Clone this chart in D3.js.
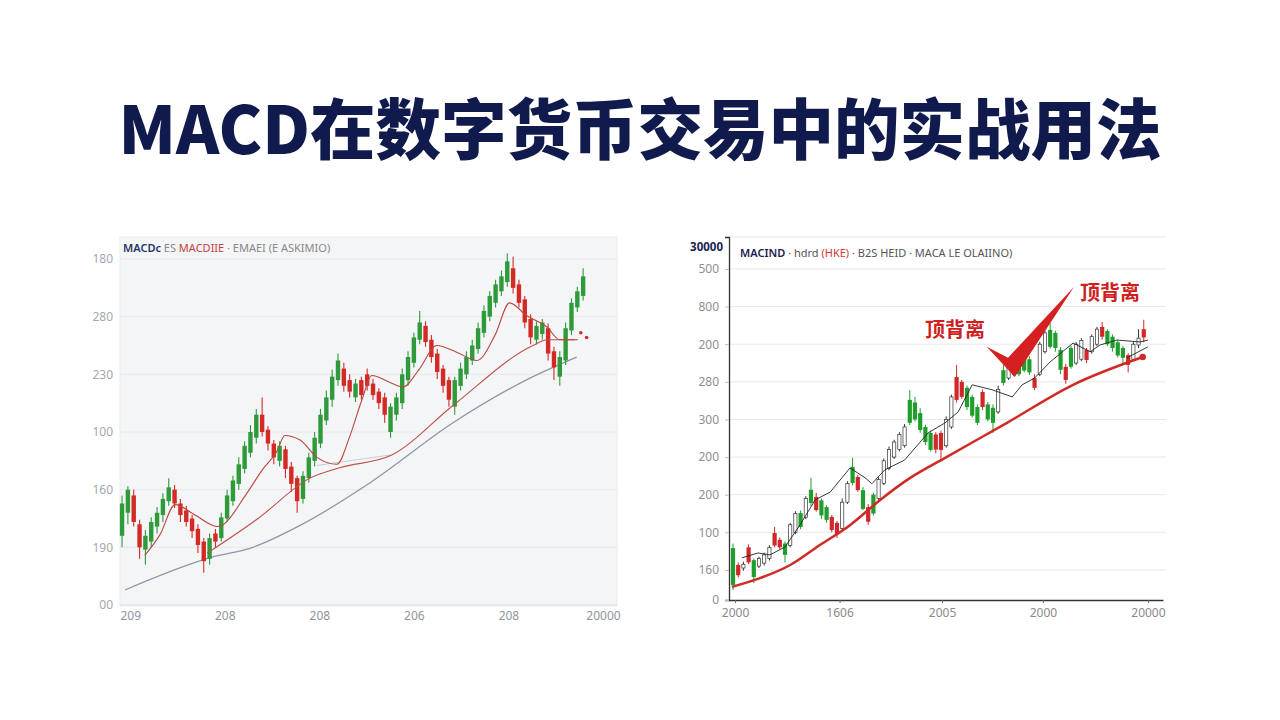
<!DOCTYPE html>
<html><head><meta charset="utf-8">
<script src="https://cdn.jsdelivr.net/npm/d3@7"></script>
<style>body{margin:0;background:#fff;}svg{display:block}</style>
</head><body>
<svg id="c" width="1280" height="720"></svg>
<script>
// ---------------- DATA ----------------
const title = "MACD在数字货币交易中的实战用法";

// Left chart
const leftYTicks = [0, 50, 100, 150, 200, 250, 300];
const leftYLabels = ["00", "190", "160", "100", "230", "280", "180"];
const leftXTicks = [1.4, 17.6, 33.8, 50.0, 66.2, 82.4];
const leftXLabels = ["209", "208", "208", "206", "208", "20000"];
const leftOpen  = [60,80,95,70,48,55,68,78,90,100,88,82,75,66,55,40,62,58,75,90,105,118,132,145,165,152,140,125,135,120,110,92,110,125,140,160,178,195,205,195,180,195,200,192,185,180,150,165,175,195,210,230,242,230,218,205,195,172,190,200,212,222,236,250,262,272,280,292,278,265,248,230,235,240,220,198,212,238,258,268];
const leftClose = [88,100,72,50,60,72,80,92,102,88,78,72,64,52,38,58,55,76,95,108,122,138,150,165,150,140,128,138,118,105,90,112,128,145,165,180,198,212,190,185,192,182,190,182,175,165,172,180,200,215,232,245,228,215,202,190,178,195,205,215,225,240,255,268,278,285,298,275,262,245,232,242,245,218,206,215,240,262,272,285];
const leftHigh  = [95,103,100,74,65,76,85,97,110,104,92,86,78,70,58,62,66,80,100,112,128,142,156,170,180,155,143,142,138,124,112,116,132,150,170,186,204,218,210,200,196,198,205,196,188,184,175,184,205,220,236,255,246,234,222,208,198,198,210,220,230,245,260,272,282,290,305,302,282,268,252,246,248,244,224,220,245,266,276,292];
const leftLow   = [50,70,68,40,35,50,62,72,86,84,72,68,58,45,28,35,50,55,72,86,100,114,128,140,146,134,122,120,110,98,80,88,106,120,136,156,172,190,185,180,176,178,186,178,170,158,145,160,170,190,206,226,224,210,196,184,172,165,186,196,208,218,232,246,258,268,276,270,258,240,226,226,230,212,195,190,208,234,254,264];
const leftFastMA = [[3.9,43],[6.5,61],[9.1,87],[12.5,78],[16.4,68],[21.4,97],[24.0,117],[26.5,133],[27.9,147],[30.5,143],[33.4,128],[36.8,122],[39.0,146],[41.1,178],[42.8,199],[45.9,193],[48.1,189],[51.0,205],[53.9,225],[57.4,219],[60.8,212],[63.9,234],[66.4,262],[69.3,251],[72.8,241],[75.0,230],[78.1,230]];
const leftSlowMA = [[14.6,45],[23.3,75],[32.2,110],[37.3,119],[46.2,130],[56.7,173],[70.4,225],[72.8,230],[77.6,230]];
const leftLongMA = [[0.5,13],[15.1,41],[22.4,50],[30.5,69],[42.5,106],[56.7,158],[70.4,198],[77.9,215]];
const leftFaint  = [[33.4,121],[45.9,130]];
const leftDots   = [[78.6,236],[79.6,232]];

// Right chart
const rightYTicks = [20, 100, 200, 300, 400, 500, 600, 700, 800, 900];
const rightYLabels = ["0", "160", "100", "200", "200", "300", "280", "200", "800", "500"];
const rightXTicks = [0.4, 20.5, 40.2, 59.6, 79.8];
const rightXLabels = ["2000", "1606", "2005", "2000", "20000"];
const rightStyle = "grhrghhhrrghhghgrggrrhhgrgrghhhhhhgggggrrhhrrgggrgghghhgggrhhgggrghhrhhrggggrhhr".split("");
const rightOpen  = [60,113,105,160,81,110,118,130,198,180,140,165,200,214,240,278,294,245,233,241,225,210,280,331,347,262,267,250,290,330,370,400,420,430,491,500,472,440,419,460,464,430,480,613,600,533,510,491,573,500,491,520,597,610,620,620,630,625,610,620,680,693,690,632,640,640,650,660,685,680,700,746,700,690,670,664,671,660,698,740];
const rightClose = [158,86,115,120,126,130,140,160,165,160,170,220,250,251,290,313,259,285,267,206,195,280,330,374,312,312,228,300,340,390,420,440,460,480,552,545,517,480,464,420,419,500,560,552,560,584,560,533,533,540,531,580,631,640,660,665,665,660,584,700,730,738,730,685,605,690,700,710,658,720,740,720,735,720,705,690,645,700,716,718];
const rightHigh  = [170,120,122,168,130,135,146,166,214,186,176,225,256,258,296,345,305,290,272,246,230,290,336,398,352,320,275,305,346,396,428,446,466,488,578,560,530,486,470,466,470,508,566,645,605,590,566,540,580,546,540,590,646,646,666,670,672,668,620,706,736,756,736,692,648,696,706,716,690,726,746,759,740,726,710,696,676,706,740,765];
const rightLow   = [47,80,98,115,65,105,112,125,160,155,120,160,195,208,235,270,255,235,225,200,185,205,275,325,308,259,220,245,285,325,365,395,415,425,485,495,465,432,415,410,392,425,475,545,555,525,505,485,525,495,464,515,590,605,615,615,625,618,578,615,675,688,680,620,595,635,645,655,650,675,695,712,695,680,665,650,625,655,690,705];
const rightTrend = [[-0.2,55],[5.2,78],[11,113],[16.7,166],[22.5,219],[28.3,286],[34,344],[40.8,398],[52.7,491],[65.4,592],[78.8,666]];
const rightLineA = [[1.7,132],[4.8,145],[7.1,140],[10,161],[12.9,220],[15.8,286],[18.7,307],[22.5,371],[25.4,345],[26.7,329],[29.2,366],[33,392],[37.5,464],[40.8,491],[43.3,520],[46,592],[49.8,579],[53.7,560],[55.6,592],[58,610],[61,653],[65.4,703],[68.7,680],[70.6,698],[73.8,711],[78.3,706],[79.8,711]];
const rightLineB = [[75.8,664],[79.8,693]];
const annoLabels = [{t:"顶背离", i:42.7, v:738}, {t:"顶背离", i:72.5, v:837}];
const checkMark = [[48.8,693],[52.9,664],[65.6,853],[54.2,613]];

// ---------------- DRAW ----------------
const svg = d3.select("#c");
svg.append("rect").attr("width",1280).attr("height",720).attr("fill","#ffffff");

svg.append("text").attr("x",640).attr("y",154).attr("text-anchor","middle")
  .attr("font-family","'Noto Sans CJK SC','Noto Sans',sans-serif").attr("font-weight",900)
  .attr("font-size",65.5).attr("fill","#111a4c").text(title);

const FONT = "'Noto Sans','DejaVu Sans',sans-serif";

// ---- Left chart ----
{
  const L = {x0:120, x1:617, y0:237, y1:605};
  const x = d3.scaleLinear().domain([-0.35, 84.8]).range([L.x0, L.x1]);
  const y = d3.scaleLinear().domain([0, 300]).range([605, 259]);
  const g = svg.append("g");
  g.append("rect").attr("x",L.x0).attr("y",L.y0).attr("width",L.x1-L.x0).attr("height",L.y1-L.y0+1)
    .attr("fill","#f4f5f7").attr("stroke","#e9ebee");
  g.selectAll(".gl").data(leftYTicks.slice(1)).join("line")
    .attr("x1",L.x0).attr("x2",L.x1).attr("y1",d=>y(d)).attr("y2",d=>y(d))
    .attr("stroke","#e6e8ec").attr("stroke-width",1);
  g.append("line").attr("x1",L.x0).attr("x2",L.x1).attr("y1",y(0)).attr("y2",y(0)).attr("stroke","#dcdfe4");
  const yAx = d3.axisLeft(y).tickValues(leftYTicks).tickFormat((d,i)=>leftYLabels[i]).tickSize(0).tickPadding(0);
  const ya = g.append("g").attr("transform","translate(113,0)").call(yAx);
  ya.select(".domain").remove();
  ya.selectAll("text").attr("font-family",FONT).attr("font-size",12).attr("fill","#a3a8ae");
  const xAx = d3.axisBottom(x).tickValues(leftXTicks).tickFormat((d,i)=>leftXLabels[i]).tickSize(0).tickPadding(0);
  const xa = g.append("g").attr("transform","translate(0,611)").call(xAx);
  xa.select(".domain").remove();
  xa.selectAll("text").attr("font-family",FONT).attr("font-size",12).attr("fill","#8f949b");

  const line = d3.line().x(d=>x(d[0])).y(d=>y(d[1])).curve(d3.curveMonotoneX);
  g.append("path").attr("d",line(leftLongMA)).attr("fill","none").attr("stroke","#8e96a8").attr("stroke-width",1.3);
  g.append("path").attr("d",line(leftFaint)).attr("fill","none").attr("stroke","#c9cdd3").attr("stroke-width",1);

  const idx = d3.range(leftOpen.length);
  const col = i => leftClose[i] >= leftOpen[i] ? "#2f9a3a" : "#d42a26";
  const cg = g.append("g");
  cg.selectAll("line").data(idx).join("line")
    .attr("x1",i=>x(i)).attr("x2",i=>x(i)).attr("y1",i=>y(leftHigh[i])).attr("y2",i=>y(leftLow[i]))
    .attr("stroke",i=>col(i)).attr("stroke-width",1.1);
  cg.selectAll("rect").data(idx).join("rect")
    .attr("x",i=>x(i)-2.2).attr("width",4.4)
    .attr("y",i=>y(Math.max(leftOpen[i],leftClose[i])))
    .attr("height",i=>Math.max(1,Math.abs(y(leftOpen[i])-y(leftClose[i]))))
    .attr("fill",i=>col(i));

  g.append("path").attr("d",line(leftSlowMA)).attr("fill","none").attr("stroke","#c0504a").attr("stroke-width",1.1);
  g.append("path").attr("d",line(leftFastMA)).attr("fill","none").attr("stroke","#b8483f").attr("stroke-width",1.1);
  g.selectAll(".dot").data(leftDots).join("circle").attr("cx",d=>x(d[0])).attr("cy",d=>y(d[1])).attr("r",1.8).attr("fill","#d42a26");

  const lg = g.append("text").attr("x",123).attr("y",252).attr("font-family",FONT).attr("font-size",11);
  lg.append("tspan").attr("fill","#1f3566").attr("font-weight",600).text("MACDc");
  lg.append("tspan").attr("fill","#888").text("  ES  ");
  lg.append("tspan").attr("fill","#c2413a").text("MACDIIE");
  lg.append("tspan").attr("fill","#888").text("  ·  EMAEI (E ASKIMIO)");
}

// ---- Right chart ----
{
  const R = {x0:729, x1:1163, y0:237, y1:600};
  const x = d3.scaleLinear().domain([-0.77, 82.7]).range([R.x0, R.x1]);
  const y = d3.scaleLinear().domain([20, 985]).range([600, 237]);
  const g = svg.append("g");
  g.selectAll(".gl").data(rightYTicks.slice(1).concat([985])).join("line")
    .attr("x1",R.x0).attr("x2",1166).attr("y1",d=>y(d)).attr("y2",d=>y(d))
    .attr("stroke","#e8e9ec").attr("stroke-width",1);
  const yAx = d3.axisLeft(y).tickValues(rightYTicks).tickFormat((d,i)=>rightYLabels[i]).tickSize(4).tickPadding(6);
  const ya = g.append("g").attr("transform",`translate(${R.x0},0)`).call(yAx);
  ya.select(".domain").attr("stroke","#333").attr("stroke-width",1.3);
  ya.selectAll(".tick line").attr("stroke","#bbb");
  ya.selectAll("text").attr("font-family",FONT).attr("font-size",12).attr("fill","#8f8f8f");
  const xAx = d3.axisBottom(x).tickValues(rightXTicks).tickFormat((d,i)=>rightXLabels[i]).tickSize(3).tickPadding(5).tickSizeOuter(0);
  const xa = g.append("g").attr("transform",`translate(0,${R.y1})`).call(xAx);
  xa.select(".domain").attr("stroke","#333").attr("stroke-width",1.3);
  xa.selectAll(".tick line").attr("stroke","#666");
  xa.selectAll("text").attr("font-family",FONT).attr("font-size",12).attr("fill","#8a8a8a");
  g.append("text").attr("x",723).attr("y",251).attr("text-anchor","end").attr("font-family",FONT)
    .attr("font-size",11.5).attr("font-weight",700).attr("fill","#1a2350").text("30000");

  const idx = d3.range(rightOpen.length);
  const colR = i => rightStyle[i]==="r" ? "#d0282a" : rightStyle[i]==="g" ? "#1f9e2e" : "#333";
  const cg = g.append("g");
  cg.selectAll("line").data(idx).join("line")
    .attr("x1",i=>x(i)).attr("x2",i=>x(i)).attr("y1",i=>y(rightHigh[i])).attr("y2",i=>y(rightLow[i]))
    .attr("stroke",i=>colR(i)).attr("stroke-width",1);
  cg.selectAll("rect").data(idx).join("rect")
    .attr("x",i=>x(i)-(rightStyle[i]==="h"?1.6:2.1)).attr("width",i=>rightStyle[i]==="h"?3.2:4.2)
    .attr("y",i=>y(Math.max(rightOpen[i],rightClose[i])))
    .attr("height",i=>Math.max(1,Math.abs(y(rightOpen[i])-y(rightClose[i]))))
    .attr("fill",i=>rightStyle[i]==="h"?"#ffffff":colR(i))
    .attr("stroke",i=>rightStyle[i]==="h"?"#333":"none").attr("stroke-width",0.7);

  const line = d3.line().x(d=>x(d[0])).y(d=>y(d[1]));
  g.append("path").attr("d",line(rightLineA)).attr("fill","none").attr("stroke","#222").attr("stroke-width",0.9);
  g.append("path").attr("d",line(rightLineB)).attr("fill","none").attr("stroke","#222").attr("stroke-width",0.9);
  const tline = d3.line().x(d=>x(d[0])).y(d=>y(d[1])).curve(d3.curveMonotoneX);
  g.append("path").attr("d",tline(rightTrend)).attr("fill","none").attr("stroke","#cf2a26").attr("stroke-width",2.5);
  const last = rightTrend[rightTrend.length-1];
  g.append("circle").attr("cx",x(last[0])).attr("cy",y(last[1])).attr("r",3.2).attr("fill","#cf2a26");

  g.append("path").attr("d",line(checkMark)+"Z").attr("fill","#d42020");
  g.selectAll(".anno").data(annoLabels).join("text")
    .attr("x",d=>x(d.i)).attr("y",d=>y(d.v)).attr("dy","0.35em").attr("text-anchor","middle")
    .attr("font-family","'Noto Sans CJK SC',sans-serif").attr("font-weight",700).attr("font-size",20)
    .attr("fill","#cf2020").text(d=>d.t);

  const lg = g.append("text").attr("x",740).attr("y",257).attr("font-family",FONT).attr("font-size",11);
  lg.append("tspan").attr("fill","#1a2350").attr("font-weight",600).text("MACIND");
  lg.append("tspan").attr("fill","#555").text("  ·  hdrd ");
  lg.append("tspan").attr("fill","#d23a3a").text("(HKE)");
  lg.append("tspan").attr("fill","#555").text("  ·  B2S HEID  ·  MACA LE OLAIINO)");
}
</script>
</body></html>
